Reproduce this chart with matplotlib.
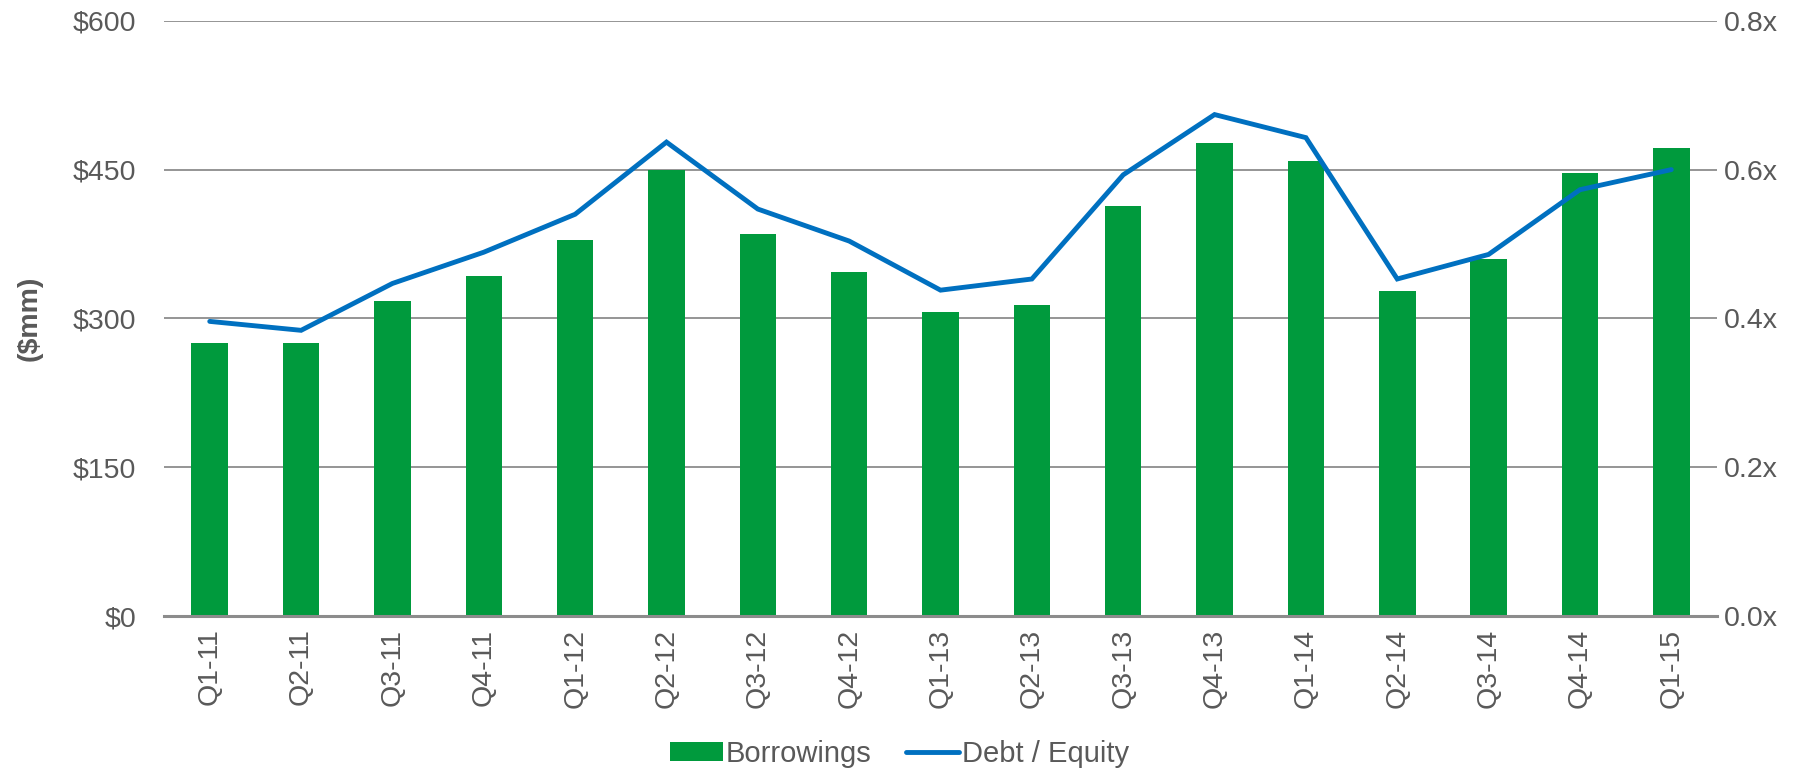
import matplotlib.pyplot as plt
import numpy as np

plt.rcParams['font.family'] = ['Liberation Sans', 'DejaVu Sans']

quarters = ['Q1-11', 'Q2-11', 'Q3-11', 'Q4-11', 'Q1-12', 'Q2-12', 'Q3-12', 'Q4-12',
            'Q1-13', 'Q2-13', 'Q3-13', 'Q4-13', 'Q1-14', 'Q2-14', 'Q3-14', 'Q4-14', 'Q1-15']
borrowings = [275, 275, 318, 343, 379, 450, 385, 347, 306, 314, 413, 477, 459, 328, 360, 447, 472]
debt_equity = [0.396, 0.384, 0.447, 0.489, 0.540, 0.637, 0.547, 0.504, 0.438, 0.453,
               0.593, 0.674, 0.643, 0.453, 0.486, 0.573, 0.600]

left_ticks = [0, 150, 300, 450, 600]
right_ticks = [0.0, 0.2, 0.4, 0.6, 0.8]

green = '#009A3D'
blue = '#0070C0'
text_col = '#595959'
fs = 20.5

fig = plt.figure(figsize=(17.99, 7.71), dpi=100)
ax = fig.add_axes([0.0912, 0.201, 0.8632, 0.772])
x = np.arange(len(quarters))

ax.bar(x, borrowings, width=0.4, color=green, zorder=2, label='Borrowings')
ax.set_xlim(-0.5, len(quarters) - 0.5)
ax.set_ylim(0, 600)
ax.set_yticks(left_ticks)
ax.set_yticklabels([f'${v}' for v in left_ticks])
ax.grid(axis='y', color='#8c8c8c', linewidth=1.3, zorder=0)
ax.set_axisbelow(True)
for s in ['top', 'right', 'left']:
    ax.spines[s].set_visible(False)
ax.spines['bottom'].set_color('#8c8c8c')
ax.spines['bottom'].set_linewidth(2.2)
ax.tick_params(axis='y', length=0, pad=20, labelsize=fs, labelcolor=text_col)
ax.tick_params(axis='x', length=0, pad=9, labelsize=fs, labelcolor=text_col)
ax.set_xticks(x)
ax.set_xticklabels(quarters, rotation=90)
ax.set_ylabel('($mm)', fontsize=fs, fontweight='bold', color=text_col, labelpad=22)

ax2 = ax.twinx()
ax2.plot(x, debt_equity, color=blue, linewidth=3.5, solid_capstyle='round',
         solid_joinstyle='miter', zorder=3, label='Debt / Equity')
ax2.set_ylim(0, 0.8)
ax2.set_yticks(right_ticks)
ax2.set_yticklabels([f'{v:.1f}x' for v in right_ticks])
for s in ['top', 'right', 'left', 'bottom']:
    ax2.spines[s].set_visible(False)
ax2.tick_params(axis='y', length=0, pad=5, labelsize=fs, labelcolor=text_col)

h1, l1 = ax.get_legend_handles_labels()
h2, l2 = ax2.get_legend_handles_labels()
fig.legend(h1 + h2, l1 + l2, loc='center', bbox_to_anchor=(0.5, 0.022), ncol=2,
           frameon=False, fontsize=21, labelcolor=text_col, handlelength=1.8,
           handleheight=0.6, handletextpad=0.1, columnspacing=1.2)

plt.savefig('out.png', dpi=100, facecolor='white')
plt.close()
